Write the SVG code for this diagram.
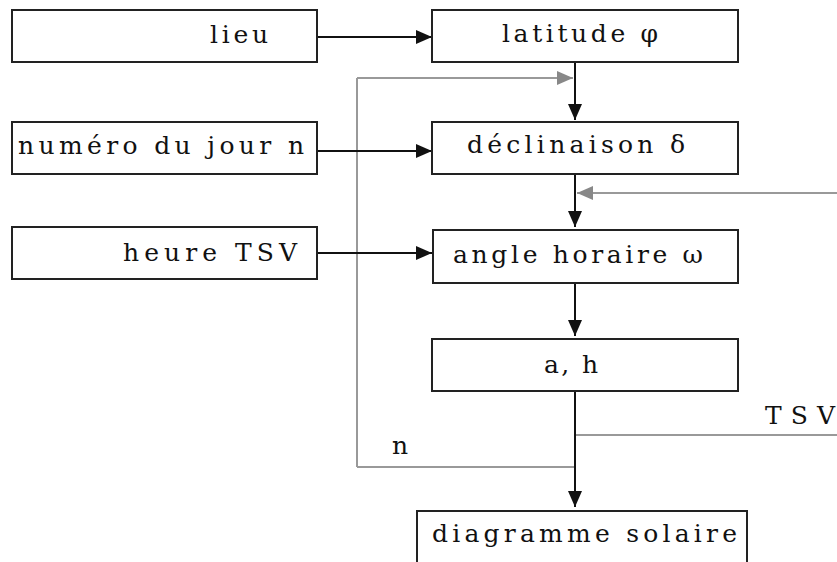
<svg xmlns="http://www.w3.org/2000/svg" width="837" height="562" viewBox="0 0 837 562">
<defs>
<style>
.box{fill:#fff;stroke:#222;stroke-width:2}
.t{font-family:"DejaVu Serif","Liberation Serif",serif;font-size:25px;fill:#111}
.k{stroke:#111;stroke-width:2;fill:none}
.g{stroke:#999;stroke-width:2;fill:none}
</style>
<marker id="ab" viewBox="0 0 16 14" refX="16" refY="7" markerWidth="16" markerHeight="14" markerUnits="userSpaceOnUse" orient="auto"><path d="M0,0L16,7L0,14z" fill="#111"/></marker>
<marker id="ag" viewBox="0 0 16 14" refX="16" refY="7" markerWidth="16" markerHeight="14" markerUnits="userSpaceOnUse" orient="auto"><path d="M0,0L16,7L0,14z" fill="#888"/></marker>
</defs>
<g id="connectors">
<line class="g" x1="357" y1="78" x2="357" y2="467"/>
<line class="g" x1="357" y1="467" x2="575" y2="467"/>
<line class="g" x1="357" y1="78" x2="573" y2="78" marker-end="url(#ag)"/>
<line class="g" x1="837" y1="193" x2="577" y2="193" marker-end="url(#ag)"/>
<line class="g" x1="837" y1="435" x2="575" y2="435"/>
<line class="k" x1="317" y1="37" x2="432" y2="37" marker-end="url(#ab)"/>
<line class="k" x1="317" y1="151" x2="432" y2="151" marker-end="url(#ab)"/>
<line class="k" x1="317" y1="253" x2="432" y2="253" marker-end="url(#ab)"/>
<line class="k" x1="575" y1="62" x2="575" y2="120" marker-end="url(#ab)"/>
<line class="k" x1="575" y1="174" x2="575" y2="227" marker-end="url(#ab)"/>
<line class="k" x1="575" y1="283" x2="575" y2="336" marker-end="url(#ab)"/>
<line class="k" x1="575" y1="391" x2="575" y2="507" marker-end="url(#ab)"/>
</g>
<g id="lieu"><rect class="box" x="12" y="10" width="305" height="52"/><text class="t" x="210" y="43" textLength="58" lengthAdjust="spacing">lieu</text></g>
<g id="numero"><rect class="box" x="12" y="122" width="305" height="52"/><text class="t" x="18" y="154" textLength="286" lengthAdjust="spacing">numéro du jour n</text></g>
<g id="heure"><rect class="box" x="12" y="227" width="305" height="52"/><text class="t" x="123" y="261" textLength="174" lengthAdjust="spacing">heure TSV</text></g>
<g id="latitude"><rect class="box" x="432" y="10" width="306" height="52"/><text class="t" x="502" y="42" textLength="156" lengthAdjust="spacing">latitude φ</text></g>
<g id="declinaison"><rect class="box" x="432" y="122" width="306" height="52"/><text class="t" x="467" y="153" textLength="218" lengthAdjust="spacing">déclinaison δ</text></g>
<g id="angle"><rect class="box" x="433" y="230" width="305" height="53"/><text class="t" x="453" y="263" textLength="250" lengthAdjust="spacing">angle horaire ω</text></g>
<g id="ah"><rect class="box" x="432" y="339" width="306" height="52"/><text class="t" x="544" y="373" textLength="54" lengthAdjust="spacing">a, h</text></g>
<g id="diagramme"><path class="box" d="M417,563V511H747V563"/><text class="t" x="432" y="542" textLength="305" lengthAdjust="spacing">diagramme solaire</text></g>
<g id="labels"><text class="t" x="765" y="424" textLength="70" lengthAdjust="spacing">TSV</text><text class="t" x="392" y="454">n</text></g>
</svg>
